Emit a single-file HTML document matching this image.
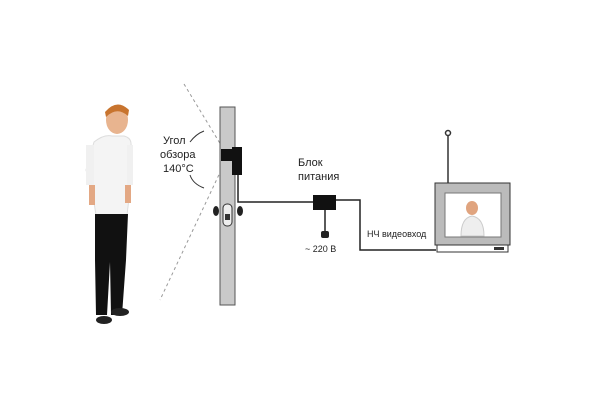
<!DOCTYPE html>
<html><head><meta charset="utf-8"><style>
html,body{margin:0;padding:0;background:#fff;}
svg{display:block;}
text{font-family:"Liberation Sans",sans-serif;fill:#222;}
</style></head><body>
<svg width="600" height="400" viewBox="0 0 600 400" xmlns="http://www.w3.org/2000/svg">
<!-- person -->
<ellipse cx="117" cy="120" rx="11" ry="14" fill="#e8b48f"/>
<path d="M105 112 Q117 98 129 110 L128 116 Q117 106 106 117 Z" fill="#c8742e"/>
<path d="M94 142 Q104 134 112 136 L124 136 Q132 138 131 146 L130 190 L127 215 L96 215 L92 190 L86 170 Z" fill="#f4f4f4" stroke="#ddd"/>
<rect x="86" y="145" width="8" height="40" fill="#f0f0f0"/>
<rect x="127" y="145" width="6" height="40" fill="#f0f0f0"/>
<rect x="89" y="185" width="6" height="20" fill="#e3a884"/>
<rect x="125" y="185" width="6" height="18" fill="#e3a884"/>
<path d="M95 214 L128 214 L126 260 L122 315 L111 315 L110 262 L107 315 L96 315 L95 260 Z" fill="#111"/>
<ellipse cx="104" cy="320" rx="8" ry="4" fill="#222"/>
<ellipse cx="120" cy="312" rx="9" ry="4" fill="#222"/>
<!-- viewing angle lines -->
<line x1="184" y1="84" x2="224" y2="150" stroke="#999" stroke-dasharray="3,3"/>
<line x1="224" y1="164" x2="160" y2="300" stroke="#999" stroke-dasharray="3,3"/>
<path d="M190 142 Q196 134 204 131" stroke="#333" fill="none"/>
<path d="M190 175 Q193 184 204 188" stroke="#333" fill="none"/>
<text x="163" y="144" font-size="11">Угол</text>
<text x="160" y="158" font-size="11">обзора</text>
<text x="163" y="172" font-size="11">140°С</text>
<!-- wall -->
<rect x="220" y="107" width="15" height="198" fill="#c9c9c9" stroke="#555"/>
<rect x="221" y="149" width="20" height="12" fill="#111"/>
<rect x="232" y="147" width="10" height="28" fill="#111"/>
<ellipse cx="216" cy="211" rx="3" ry="5" fill="#222"/>
<ellipse cx="240" cy="211" rx="3" ry="5" fill="#222"/>
<rect x="223" y="204" width="9" height="22" rx="4" fill="#eee" stroke="#333"/>
<rect x="225" y="214" width="5" height="6" fill="#333"/>
<!-- wiring -->
<polyline points="238,175 238,202 313,202" fill="none" stroke="#222" stroke-width="1.5"/>
<rect x="313" y="195" width="23" height="15" fill="#111"/>
<line x1="325" y1="210" x2="325" y2="232" stroke="#222" stroke-width="1.5"/>
<rect x="321" y="231" width="8" height="7" rx="2" fill="#222"/>
<text x="305" y="252" font-size="9">~ 220 В</text>
<text x="298" y="166" font-size="11">Блок</text>
<text x="298" y="180" font-size="11">питания</text>
<polyline points="336,200 360,200 360,250 436,250" fill="none" stroke="#222" stroke-width="1.5"/>
<text x="367" y="237" font-size="9">НЧ видеовход</text>
<!-- TV -->
<line x1="448" y1="135" x2="448" y2="183" stroke="#333" stroke-width="1.5"/>
<circle cx="448" cy="133" r="2.5" fill="#fff" stroke="#333" stroke-width="1.5"/>
<rect x="435" y="183" width="75" height="62" fill="#bbb" stroke="#333"/>
<rect x="445" y="193" width="56" height="44" fill="#fff" stroke="#777"/>
<ellipse cx="472" cy="208" rx="6" ry="7" fill="#e0a47f"/>
<path d="M461 236 Q461 218 472 216 Q484 218 484 236 Z" fill="#eee" stroke="#ccc"/>
<rect x="437" y="245" width="71" height="7" fill="#fff" stroke="#333"/>
<rect x="494" y="247" width="10" height="3" fill="#333"/>
</svg>
</body></html>
